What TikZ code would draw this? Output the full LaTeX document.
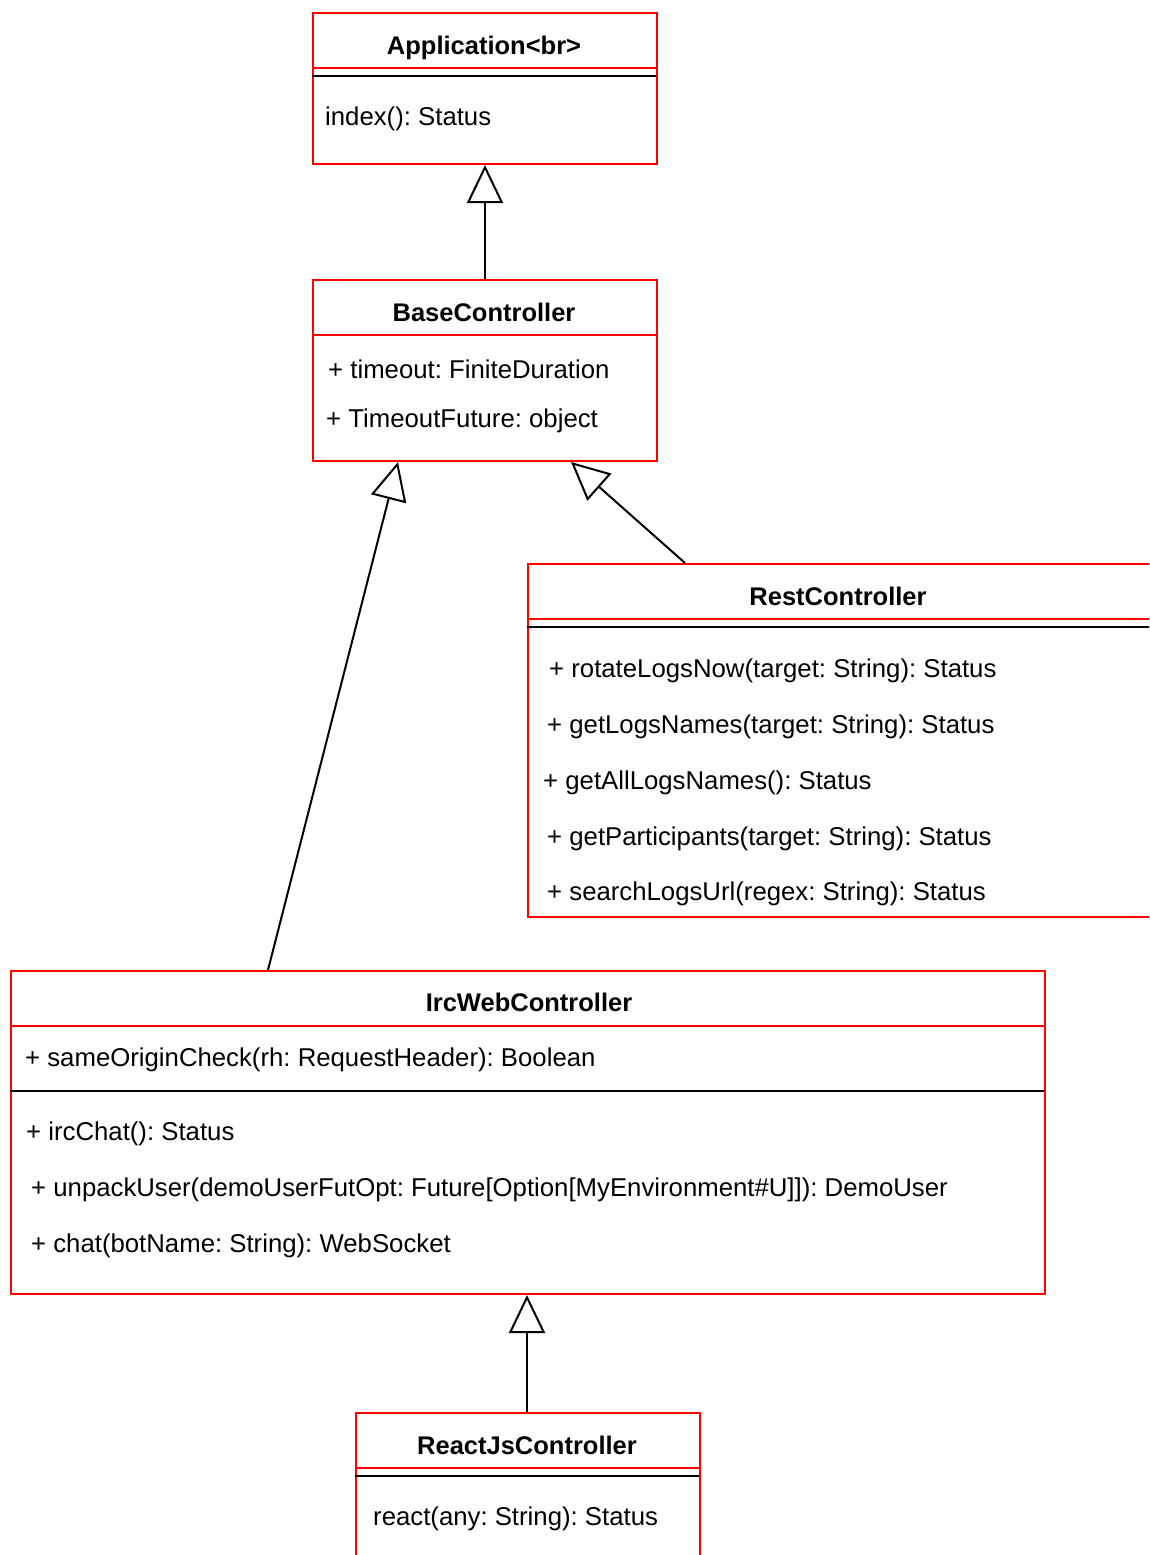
\documentclass[tikz,border=0pt]{standalone}
\usepackage{fontspec}
\setmainfont{Liberation Sans}
\usetikzlibrary{arrows.meta,calc}
\begin{document}
\frenchspacing
\begin{tikzpicture}[x=1pt,y=-1pt,
  classbox/.style={draw=red, line width=2pt, anchor=north west, inner sep=0pt, fill=white},
  ttl/.style={font=\fontsize{25.5}{30}\selectfont\bfseries, anchor=center, inner sep=0pt},
  mem/.style={font=\fontsize{25.75}{30}\selectfont, anchor=west, inner sep=0pt, yshift=-3pt},
  reddiv/.style={draw=red, line width=2pt},
  blackdiv/.style={draw=black, line width=2pt},
  inh/.style={draw=black, line width=2pt, -{Triangle[open, length=38pt, width=36pt, fill=white]}}
]
\useasboundingbox (0,0) rectangle (1149,1555);
\clip (0,0) rectangle (1149,1555);
\fill[white] (0,0) rectangle (1149,1555);

% Application
\node[classbox, minimum width=344pt, minimum height=151pt] (app) at (312,12) {};
\node[ttl] (appT) at (484,48) {Application<br>};
\draw[reddiv] (312,68) -- (656,68);
\draw[blackdiv] (312,76) -- (656,76);
\node[mem] (appM1) at (325,116) {index(): Status};

% BaseController
\node[classbox, minimum width=344pt, minimum height=181pt] (base) at (312,279) {};
\node[ttl] (baseT) at (484,312) {BaseController};
\draw[reddiv] (312,335) -- (656,335);
\node[mem] (baseA1) at (328,366) {+ timeout: FiniteDuration};
\node[mem] (baseA2) at (326,418) {+ TimeoutFuture: object};

% RestController
\node[classbox, minimum width=624pt, minimum height=353pt] (rest) at (527,563) {};
\node[ttl] (restT) at (838,596) {RestController};
\draw[reddiv] (527,619) -- (1151,619);
\draw[blackdiv] (527,627) -- (1151,627);
\node[mem] (restM1) at (549,668) {+ rotateLogsNow(target: String): Status};
\node[mem] (restM2) at (547,724) {+ getLogsNames(target: String): Status};
\node[mem] (restM3) at (543,780) {+ getAllLogsNames(): Status};
\node[mem] (restM4) at (547,836) {+ getParticipants(target: String): Status};
\node[mem] (restM5) at (547,891) {+ searchLogsUrl(regex: String): Status};

% IrcWebController
\node[classbox, minimum width=1034pt, minimum height=323pt] (irc) at (10,970) {};
\node[ttl] (ircT) at (529,1002) {IrcWebController};
\draw[reddiv] (10,1026) -- (1044,1026);
\node[mem] (ircA1) at (25,1057) {+ sameOriginCheck(rh: RequestHeader): Boolean};
\draw[blackdiv] (10,1091) -- (1044,1091);
\node[mem] (ircM1) at (26,1131) {+ ircChat(): Status};
\node[mem] (ircM2) at (31,1187) {+ unpackUser(demoUserFutOpt: Future[Option[MyEnvironment\#U]]): DemoUser};
\node[mem] (ircM3) at (31,1243) {+ chat(botName: String): WebSocket};

% ReactJsController
\node[classbox, minimum width=344pt, minimum height=160pt] (react) at (355,1412) {};
\node[ttl] (reactT) at (527,1445) {ReactJsController};
\draw[reddiv] (355,1468) -- (699,1468);
\draw[blackdiv] (355,1476) -- (699,1476);
\node[mem] (reactM1) at (373,1516) {react(any: String): Status};

% Inheritance
\draw[inh] (base.north) -- (app.south);
\coordinate (ircTop) at ($(irc.north west)+(258,0)$);
\coordinate (baseBotL) at ($(base.south west)+(86,0)$);
\draw[inh] (ircTop) -- (baseBotL);
\coordinate (restTop) at ($(rest.north west)+(158,0)$);
\coordinate (baseBotR) at ($(base.south west)+(259,0)$);
\draw[inh] (restTop) -- (baseBotR);
\coordinate (reactTop) at ($(react.north west)+(172,0)$);
\coordinate (ircBot) at ($(irc.south west)+(517,0)$);
\draw[inh] (reactTop) -- (ircBot);
\end{tikzpicture}
\end{document}
